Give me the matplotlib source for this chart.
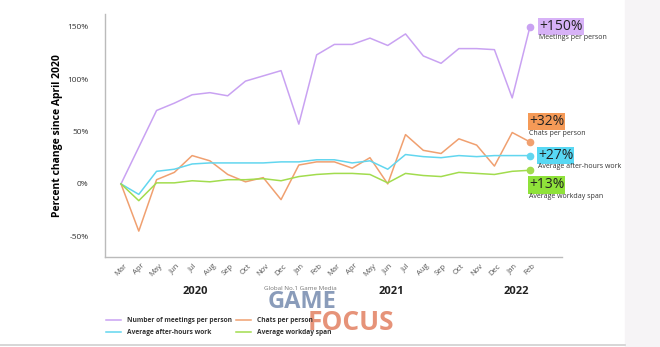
import matplotlib.pyplot as plt
from matplotlib.patches import Rectangle

plt.rcParams['font.family'] = ['Open Sans', 'DejaVu Sans']

# monthly points, Mar 2020 .. Feb 2022
months = ['Mar', 'Apr', 'May', 'Jun', 'Jul', 'Aug', 'Sep', 'Oct', 'Nov', 'Dec', 'Jan', 'Feb',
          'Mar', 'Apr', 'May', 'Jun', 'Jul', 'Aug', 'Sep', 'Oct', 'Nov', 'Dec', 'Jan', 'Feb']
years = ['2020', '2021', '2022']

meetings = [0, 35, 70, 77, 85, 87, 84, 98, 103, 108, 57, 123,
            133, 133, 139, 132, 143, 122, 115, 129, 129, 128, 82, 150]
chats = [0, -45, 4, 11, 27, 22, 9, 2, 6, -15, 18, 21,
         21, 15, 25, 0, 47, 32, 29, 43, 37, 17, 49, 40]
after_hours = [0, -10, 12, 14, 19, 20, 20, 20, 20, 21, 21, 23,
               23, 20, 22, 14, 28, 26, 25, 27, 26, 27, 27, 27]
workday = [0, -16, 1, 1, 3, 2, 4, 4, 5, 3, 7, 9,
           10, 10, 9, 1, 10, 8, 7, 11, 10, 9, 12, 13]

series = [
    (meetings, '#c9a2f2', 'Number of meetings per person', '+150%', 'Meetings per person'),
    (chats, '#f0a070', 'Chats per person', '+32%', 'Chats per person'),
    (after_hours, '#62d6ef', 'Average after-hours work', '+27%', 'Average after-hours work'),
    (workday, '#a2dc4e', 'Average workday span', '+13%', 'Average workday span'),
]
box_colors = ['#d7b2f7', '#f59a57', '#58d8f4', '#8fe23a']

fig = plt.figure(figsize=(6.6, 3.47), dpi=100)
fig.patches.append(Rectangle((625 / 660, 0), 35 / 660, 1, transform=fig.transFigure,
                             color='#f6f4f6', zorder=0))
fig.add_artist(plt.Line2D([0, 625 / 660], [2 / 347, 2 / 347], color='#d0d0d0', lw=1.2))

ax = fig.add_axes([105 / 660, 1 - 257 / 347, 457 / 660, 243 / 347])
x = list(range(len(months)))
lines = []
for vals, col, name, _, _ in series:
    ln, = ax.plot(x, vals, color=col, lw=1.1, label=name)
    lines.append(ln)
    ax.plot(x[-1], vals[-1], 'o', color=col, ms=4.5)

ax.set_xlim(-0.9, 24.8)
ax.set_ylim(-69.7, 162)
ax.set_yticks([-50, 0, 50, 100, 150])
ax.set_yticklabels(['-50%', '0%', '50%', '100%', '150%'], fontsize=6, color='#333333')
ax.set_xticks(x)
ax.set_xticklabels(months, rotation=45, fontsize=5.5, color='#555555')
ax.tick_params(length=0, pad=4)
ax.tick_params(axis='y', pad=12)
for s in ['top', 'right']:
    ax.spines[s].set_visible(False)
for s in ['left', 'bottom']:
    ax.spines[s].set_color('#bbbbbb')
    ax.spines[s].set_linewidth(1)

ax.set_ylabel('Percent change since April 2020', fontsize=7.5, fontweight='bold', labelpad=3)

for xx, yr in zip([4.2, 15.2, 22.2], years):
    ax.annotate(yr, xy=(xx, 0), xycoords=('data', 'axes fraction'), xytext=(0, -25),
                textcoords='offset points', ha='center', va='center',
                fontsize=8, fontweight='bold', color='#222222')

# end-of-line callouts (figure pixel positions)
callouts = [(539, 26.5, 37.5), (529, 121.5, 133.5), (538, 155.5, 167), (529, 185, 196.5)]
for (vals, col, name, big, small), bc, (px, py, sy) in zip(series, box_colors, callouts):
    fig.text(px / 660, 1 - py / 347, big, fontsize=10, color='#222222', va='center', ha='left',
             bbox=dict(boxstyle='square,pad=0.08', fc=bc, ec='none'))
    fig.text(px / 660, 1 - sy / 347, small, fontsize=5, color='#333333', va='center', ha='left')

# legend: two separate columns
for handles, x0 in [([lines[0], lines[2]], 100), ([lines[1], lines[3]], 230)]:
    leg = fig.legend(handles=handles, loc='center left',
                     bbox_to_anchor=(x0 / 660, 1 - 327 / 347),
                     frameon=False, fontsize=4.8, handlelength=2.2,
                     labelspacing=0.75, handletextpad=0.9)
    for t in leg.get_texts():
        t.set_fontweight('bold')
        t.set_color('#333333')

# watermark
fig.text(300 / 660, 1 - 289 / 347, 'Global No.1 Game Media', fontsize=4.5, color='#777777',
         ha='center', va='center')
fig.text(302 / 660, 1 - 302 / 347, 'GAME', fontsize=17, fontweight='bold', color='#7d91b3',
         ha='center', va='center', alpha=0.9)
fig.text(351 / 660, 1 - 322 / 347, 'FOCUS', fontsize=19, fontweight='bold', color='#e4876a',
         ha='center', va='center', alpha=0.9)

fig.savefig('out.png', dpi=100, facecolor='white')
